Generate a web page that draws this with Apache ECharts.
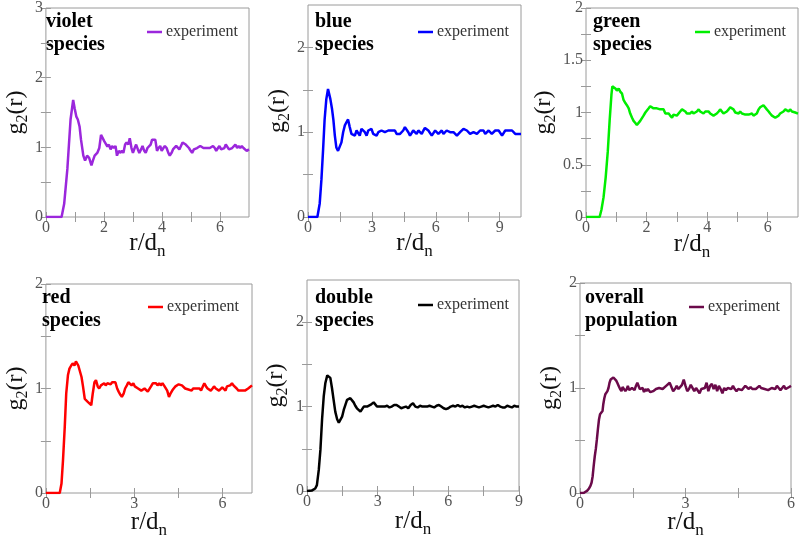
<!DOCTYPE html>
<html><head><meta charset="utf-8">
<script src="https://cdn.jsdelivr.net/npm/echarts@6/dist/echarts.min.js"></script>
<style>html,body{margin:0;padding:0;background:#fff}#c{width:800px;height:540px}</style>
</head><body><div id="c"></div>
<script>
// ---------- data (r/d_n, g2(r)) ----------
const violetData = [[0,0],[0.54,0],[0.63,0.19],[0.74,0.69],[0.85,1.40],[0.94,1.68],[0.99,1.56],[1.05,1.44],[1.10,1.40],[1.16,1.30],[1.21,1.11],[1.29,0.88],[1.35,0.81],[1.42,0.88],[1.49,0.85],[1.57,0.74],[1.62,0.81],[1.68,0.88],[1.77,0.92],[1.84,0.99],[1.90,1.18],[1.95,1.17],[2.01,1.09],[2.06,1.07],[2.12,1.01],[2.17,1.04],[2.23,0.97],[2.28,1.02],[2.34,0.99],[2.40,1.02],[2.45,0.88],[2.51,0.95],[2.56,0.92],[2.62,0.95],[2.67,0.92],[2.73,1.04],[2.78,1.07],[2.84,1.04],[2.89,1.13],[2.95,0.99],[3.00,0.92],[3.06,0.99],[3.11,1.04],[3.17,0.97],[3.22,0.92],[3.28,0.97],[3.33,1.02],[3.39,0.95],[3.44,0.92],[3.50,0.99],[3.55,0.97],[3.61,1.04],[3.66,1.11],[3.72,1.11],[3.77,1.11],[3.83,0.95],[3.88,0.99],[3.94,1.02],[3.99,0.95],[4.05,0.99],[4.10,1.02],[4.16,0.99],[4.22,0.92],[4.27,0.88],[4.33,0.92],[4.38,0.97],[4.44,0.99],[4.49,1.02],[4.55,1.04],[4.60,0.97],[4.66,0.99],[4.71,1.07],[4.77,1.09],[4.82,1.04],[4.88,1.02],[4.93,0.99],[4.99,0.95],[5.04,0.92],[5.10,0.97],[5.15,0.95],[5.21,0.99],[5.26,0.97],[5.32,1.02],[5.38,1.04],[5.43,0.99],[5.49,0.97],[5.54,0.99],[5.60,0.97],[5.65,0.99],[5.71,0.97],[5.76,1.02],[5.82,0.99],[5.87,0.95],[5.93,0.99],[5.98,1.02],[6.04,0.97],[6.09,0.95],[6.15,0.99],[6.20,1.04],[6.26,1.02],[6.31,0.97],[6.37,0.95],[6.42,0.99],[6.48,0.99],[6.53,1.04],[6.59,0.99],[6.64,1.02],[6.70,0.99],[6.75,1.02],[6.81,0.99],[6.87,0.97],[6.92,0.95],[7.00,0.97]];

const blueData = [[0,0],[0.44,0],[0.55,0.16],[0.63,0.44],[0.71,0.80],[0.78,1.15],[0.86,1.39],[0.94,1.51],[0.99,1.52],[1.05,1.39],[1.13,1.27],[1.19,1.15],[1.26,0.96],[1.33,0.82],[1.41,0.78],[1.49,0.80],[1.57,0.88],[1.65,1.00],[1.73,1.08],[1.81,1.12],[1.88,1.15],[1.96,1.06],[2.04,0.98],[2.12,1.00],[2.20,0.96],[2.28,1.02],[2.35,1.00],[2.43,0.96],[2.51,1.04],[2.59,1.05],[2.67,1.00],[2.75,0.96],[2.83,1.02],[2.90,1.00],[2.98,1.04],[3.06,0.98],[3.14,1.00],[3.22,0.96],[3.30,1.00],[3.38,0.98],[3.45,1.02],[3.53,1.04],[3.61,1.00],[3.69,0.98],[3.77,1.02],[3.85,1.00],[3.92,1.02],[4.00,1.00],[4.08,1.02],[4.16,0.98],[4.24,1.00],[4.32,0.98],[4.40,1.00],[4.47,1.02],[4.55,1.06],[4.63,1.04],[4.71,1.00],[4.79,0.96],[4.87,0.98],[4.94,1.02],[5.02,1.00],[5.10,0.98],[5.18,1.02],[5.26,1.00],[5.34,0.98],[5.42,1.02],[5.49,1.05],[5.57,1.04],[5.65,1.02],[5.73,1.00],[5.81,0.96],[5.89,0.98],[5.97,1.02],[6.04,1.00],[6.12,0.98],[6.20,1.00],[6.28,1.02],[6.36,0.98],[6.44,1.00],[6.51,1.02],[6.59,1.04],[6.67,1.00],[6.75,0.98],[6.83,1.00],[6.91,0.98],[6.99,0.96],[7.06,0.98],[7.14,1.00],[7.22,1.02],[7.30,1.04],[7.38,1.05],[7.46,1.02],[7.53,1.00],[7.61,0.98],[7.69,0.96],[7.77,1.00],[7.85,1.02],[7.93,0.98],[8.01,1.00],[8.08,1.02],[8.16,1.00],[8.24,1.02],[8.32,0.98],[8.40,1.00],[8.48,1.02],[8.55,1.00],[8.63,0.98],[8.71,1.00],[8.79,1.02],[8.87,1.00],[8.95,1.02],[9.03,1.00],[9.11,0.96],[9.18,0.98],[9.26,1.02],[9.34,1.00],[9.42,1.02],[9.50,1.00],[9.58,1.02],[9.65,1.00],[9.73,0.98],[9.81,1.00],[9.89,0.98],[10.00,0.98]];

const greenData = [[0,0],[0.45,0],[0.51,0.07],[0.58,0.19],[0.65,0.38],[0.72,0.63],[0.78,0.92],[0.84,1.17],[0.87,1.25],[0.91,1.25],[0.97,1.23],[1.02,1.21],[1.08,1.23],[1.13,1.20],[1.19,1.18],[1.24,1.12],[1.30,1.09],[1.35,1.07],[1.41,1.04],[1.46,0.99],[1.52,0.95],[1.57,0.92],[1.63,0.90],[1.68,0.88],[1.74,0.89],[1.79,0.92],[1.85,0.93],[1.90,0.97],[1.96,1.00],[2.01,1.01],[2.07,1.04],[2.12,1.06],[2.18,1.06],[2.23,1.04],[2.29,1.03],[2.34,1.04],[2.40,1.03],[2.45,1.03],[2.51,1.03],[2.56,1.03],[2.62,0.99],[2.67,0.98],[2.73,0.99],[2.78,0.97],[2.84,0.95],[2.89,0.98],[2.95,0.99],[3.00,0.97],[3.06,0.98],[3.11,1.01],[3.17,1.03],[3.22,1.03],[3.28,1.01],[3.33,0.99],[3.39,1.00],[3.44,0.99],[3.50,1.01],[3.55,0.99],[3.61,1.00],[3.66,1.01],[3.72,1.03],[3.77,1.01],[3.83,1.00],[3.88,0.99],[3.94,1.01],[3.99,1.00],[4.05,1.01],[4.10,0.99],[4.16,0.98],[4.21,0.97],[4.27,0.98],[4.32,0.99],[4.38,1.01],[4.43,1.03],[4.49,1.02],[4.54,0.99],[4.60,0.99],[4.65,1.01],[4.71,1.03],[4.76,1.05],[4.82,1.06],[4.87,1.03],[4.93,1.00],[4.98,0.99],[5.04,0.99],[5.09,1.01],[5.15,0.99],[5.20,0.99],[5.26,0.98],[5.31,0.97],[5.37,0.98],[5.42,0.99],[5.48,0.99],[5.53,0.97],[5.59,0.97],[5.64,0.99],[5.70,1.03],[5.75,1.05],[5.81,1.06],[5.86,1.07],[5.92,1.06],[5.97,1.03],[6.03,1.01],[6.08,0.99],[6.14,0.97],[6.19,0.96],[6.25,0.95],[6.30,0.96],[6.36,0.97],[6.41,0.99],[6.47,0.99],[6.52,1.01],[6.58,1.03],[6.63,1.02],[6.69,1.01],[6.74,1.03],[6.80,1.01],[6.85,1.02],[6.91,1.00],[7.00,0.99]];

const redData = [[0,0],[0.47,0],[0.53,0.09],[0.58,0.31],[0.64,0.63],[0.69,0.95],[0.75,1.13],[0.80,1.19],[0.86,1.22],[0.91,1.24],[0.97,1.22],[1.02,1.26],[1.05,1.27],[1.10,1.22],[1.15,1.21],[1.21,1.11],[1.26,1.02],[1.32,0.90],[1.37,0.89],[1.43,0.87],[1.48,0.86],[1.54,0.84],[1.59,0.95],[1.65,1.06],[1.70,1.08],[1.76,1.02],[1.81,1.00],[1.87,1.03],[1.92,1.02],[1.98,1.05],[2.03,1.03],[2.09,1.05],[2.14,1.05],[2.20,1.04],[2.25,1.06],[2.31,1.05],[2.36,1.06],[2.42,1.00],[2.47,0.97],[2.53,0.94],[2.58,0.92],[2.64,0.95],[2.69,1.00],[2.75,1.03],[2.80,1.06],[2.86,1.05],[2.91,1.03],[2.97,1.05],[3.02,1.02],[3.08,1.02],[3.13,1.00],[3.19,1.01],[3.24,0.98],[3.30,0.97],[3.35,1.00],[3.41,0.99],[3.46,0.97],[3.52,0.98],[3.57,1.02],[3.63,1.05],[3.68,1.06],[3.74,1.05],[3.79,1.03],[3.85,1.05],[3.90,1.03],[3.96,1.05],[4.01,1.03],[4.07,1.02],[4.12,0.98],[4.18,0.92],[4.23,0.95],[4.29,0.98],[4.34,1.00],[4.40,1.02],[4.45,1.03],[4.51,1.04],[4.56,1.05],[4.62,1.03],[4.67,1.02],[4.73,1.00],[4.78,1.01],[4.84,0.99],[4.89,1.00],[4.95,0.98],[5.00,1.00],[5.05,0.99],[5.11,1.00],[5.16,0.99],[5.22,1.00],[5.27,0.98],[5.33,1.02],[5.38,1.05],[5.44,1.02],[5.49,1.00],[5.55,1.01],[5.60,0.98],[5.66,1.00],[5.71,1.02],[5.77,1.00],[5.82,1.01],[5.88,0.98],[5.93,0.99],[5.99,1.01],[6.04,1.00],[6.10,0.98],[6.15,1.02],[6.21,1.01],[6.26,1.03],[6.32,1.05],[6.37,1.03],[6.43,1.02],[6.48,1.00],[6.54,0.98],[6.59,0.97],[6.65,0.98],[6.70,0.98],[6.76,0.98],[6.81,0.99],[6.87,1.00],[6.92,1.01],[7.00,1.03]];

const doubleData = [[0,0],[0.20,0.005],[0.35,0.03],[0.42,0.07],[0.50,0.25],[0.57,0.49],[0.64,0.85],[0.71,1.12],[0.78,1.28],[0.86,1.37],[0.92,1.39],[0.99,1.34],[1.06,1.22],[1.13,1.08],[1.20,0.94],[1.28,0.85],[1.35,0.81],[1.42,0.83],[1.49,0.88],[1.56,0.96],[1.63,1.02],[1.70,1.08],[1.77,1.10],[1.84,1.10],[1.91,1.08],[1.98,1.05],[2.05,1.01],[2.12,0.98],[2.19,0.96],[2.27,0.94],[2.34,0.96],[2.41,1.00],[2.48,1.01],[2.55,1.00],[2.62,1.02],[2.69,1.02],[2.76,1.04],[2.83,1.05],[2.90,1.04],[2.97,1.00],[3.05,0.99],[3.12,1.00],[3.19,1.00],[3.30,1.00],[3.40,1.01],[3.50,0.99],[3.60,1.00],[3.70,1.02],[3.80,1.02],[3.90,1.00],[4.00,0.98],[4.10,0.99],[4.20,1.00],[4.30,0.98],[4.40,1.02],[4.50,1.04],[4.60,1.00],[4.70,0.99],[4.80,1.01],[4.90,1.00],[5.00,1.00],[5.10,1.00],[5.20,1.01],[5.30,1.00],[5.40,0.99],[5.50,1.01],[5.60,1.02],[5.70,1.00],[5.80,0.98],[5.90,0.97],[6.00,0.98],[6.10,1.00],[6.20,1.01],[6.30,1.00],[6.40,1.02],[6.50,1.00],[6.60,1.01],[6.70,0.99],[6.80,1.00],[6.90,0.99],[7.00,1.00],[7.10,1.01],[7.20,1.00],[7.30,0.99],[7.40,1.00],[7.50,1.01],[7.60,1.00],[7.70,0.99],[7.80,1.00],[7.90,1.01],[8.00,1.00],[8.10,1.02],[8.20,1.00],[8.30,0.99],[8.40,0.99],[8.50,1.01],[8.60,1.00],[8.70,0.99],[8.80,1.01],[8.90,1.00],[9.00,1.00]];

const overallData = [[0,0],[0.10,0],[0.15,0.01],[0.20,0.02],[0.25,0.04],[0.30,0.07],[0.33,0.10],[0.36,0.16],[0.39,0.26],[0.42,0.35],[0.45,0.42],[0.48,0.51],[0.51,0.61],[0.54,0.70],[0.57,0.75],[0.61,0.76],[0.64,0.78],[0.66,0.84],[0.69,0.90],[0.72,0.94],[0.75,0.95],[0.78,0.97],[0.81,1.00],[0.84,1.05],[0.87,1.08],[0.91,1.09],[0.95,1.10],[0.99,1.09],[1.03,1.07],[1.06,1.05],[1.10,1.02],[1.14,0.99],[1.18,0.97],[1.21,1.01],[1.25,1.02],[1.29,0.97],[1.33,0.99],[1.36,1.02],[1.40,0.98],[1.44,0.97],[1.48,1.00],[1.52,0.99],[1.55,0.98],[1.59,1.02],[1.63,1.05],[1.67,1.04],[1.70,0.99],[1.74,0.98],[1.78,1.00],[1.82,0.96],[1.85,0.99],[1.89,0.97],[1.93,0.99],[1.97,0.98],[2.00,0.96],[2.04,0.95],[2.08,0.97],[2.12,0.98],[2.16,0.99],[2.20,0.99],[2.25,1.00],[2.30,1.01],[2.35,0.99],[2.40,1.00],[2.45,1.02],[2.50,1.02],[2.55,1.05],[2.60,1.01],[2.65,0.97],[2.70,0.99],[2.75,1.02],[2.80,0.99],[2.85,1.00],[2.90,1.03],[2.95,1.08],[3.00,1.02],[3.05,0.97],[3.10,0.99],[3.15,1.03],[3.20,1.02],[3.25,0.97],[3.30,1.00],[3.35,0.99],[3.40,0.95],[3.45,0.99],[3.50,0.98],[3.55,1.00],[3.60,1.05],[3.65,0.97],[3.70,1.02],[3.75,1.04],[3.80,0.99],[3.85,1.03],[3.90,0.97],[3.95,1.02],[4.00,0.99],[4.05,0.95],[4.10,1.00],[4.15,0.98],[4.20,1.00],[4.25,0.99],[4.30,0.99],[4.35,1.02],[4.40,0.99],[4.45,0.97],[4.50,0.99],[4.55,0.99],[4.60,0.98],[4.65,1.00],[4.70,1.02],[4.75,1.02],[4.80,0.99],[4.85,1.01],[4.90,0.99],[4.95,0.98],[5.00,0.99],[5.05,1.00],[5.10,1.02],[5.15,1.00],[5.20,0.99],[5.25,0.99],[5.30,1.00],[5.35,0.98],[5.40,0.99],[5.45,1.00],[5.50,0.99],[5.55,0.99],[5.60,1.02],[5.65,1.00],[5.70,0.98],[5.75,1.00],[5.80,1.02],[5.85,0.99],[5.90,1.00],[5.95,1.01],[6.00,1.02]];

// ---------- tick values ----------
const violetXTicks = [0,2,4,6],   violetXMinor = [1,3,5],       violetYTicks = [0,1,2,3],        violetYMinor = [0.5,1.5,2.5];
const blueXTicks   = [0,3,6,9],   blueXMinor   = [1.5,4.5,7.5],  blueYTicks   = [0,1,2],          blueYMinor   = [0.5,1.5];
const greenXTicks  = [0,2,4,6],   greenXMinor  = [1,3,5],        greenYTicks  = [0,0.5,1,1.5,2],  greenYMinor  = [0.25,0.75,1.25,1.75];
const redXTicks    = [0,3,6],     redXMinor    = [1.5,4.5],      redYTicks    = [0,1,2],          redYMinor    = [0.5,1.5];
const doubleXTicks = [0,3,6,9],   doubleXMinor = [1.5,4.5,7.5],  doubleYTicks = [0,1,2],          doubleYMinor = [0.5,1.5];
const overallXTicks= [0,3,6],     overallXMinor= [1.5,4.5],      overallYTicks= [0,1,2],          overallYMinor= [0.5,1.5];

const panelTitles = [['violet','species'],['blue','species'],['green','species'],['red','species'],['double','species'],['overall','population']];
const legendLabel = 'experiment';

// ---------- panel setup ----------
const panels = [
  {data: violetData, color:'#9b27dc', xMax:7, yMax:3, xT:violetXTicks, xM:violetXMinor, yT:violetYTicks, yM:violetYMinor},
  {data: blueData, color:'#0000ff', xMax:10, yMax:2.5, xT:blueXTicks, xM:blueXMinor, yT:blueYTicks, yM:blueYMinor},
  {data: greenData, color:'#00ee00', xMax:7, yMax:2, xT:greenXTicks, xM:greenXMinor, yT:greenYTicks, yM:greenYMinor},
  {data: redData, color:'#ff0000', xMax:7, yMax:2, xT:redXTicks, xM:redXMinor, yT:redYTicks, yM:redYMinor},
  {data: doubleData, color:'#000000', xMax:9, yMax:2.5, xT:doubleXTicks, xM:doubleXMinor, yT:doubleYTicks, yM:doubleYMinor},
  {data: overallData, color:'#6b0a4a', xMax:6, yMax:2, xT:overallXTicks, xM:overallXMinor, yT:overallYTicks, yM:overallYMinor}
];
const layout = [
  {grid:{left:38,top:5,width:211,height:212},  yGap:12, xGap:12, title:[46,10],  leg:[147,32]},
  {grid:{left:308,top:5,width:213,height:212}, yGap:17, xGap:12, title:[315,10], leg:[418,32]},
  {grid:{left:586,top:5,width:212,height:212}, yGap:25, xGap:13, title:[593,10], leg:[695,32]},
  {grid:{left:39,top:284,width:213,height:209},yGap:13, xGap:15, title:[42,286], leg:[148,307]},
  {grid:{left:307,top:280,width:212,height:211},yGap:18,xGap:16, title:[315,286],leg:[418,305]},
  {grid:{left:580,top:283,width:211,height:211},yGap:17,xGap:15, title:[585,286],leg:[689,307]}
];

const FONT = 'Liberation Serif, Times New Roman, serif';
const AXC = '#9a9a9a';
const grids = [], xAxes = [], yAxes = [], series = [], graphics = [];

panels.forEach((p, i) => {
  const L = layout[i];
  grids.push(Object.assign({show:true, borderColor:AXC, borderWidth:1, containLabel:false}, L.grid));
  const tickAll = (a,b) => a.concat(b).sort((u,v)=>u-v);
  const xTickStyle = {show:true, inside:true, length:5, lineStyle:{color:AXC}, customValues: tickAll(p.xT, p.xM)};
  const yTickStyle = {show:true, inside:true, length:5, lineStyle:{color:AXC}, customValues: tickAll(p.yT, p.yM)};
  xAxes.push({
    type:'value', gridIndex:i, min:0, max:p.xMax, position:'bottom',
    axisLine:{show:false}, splitLine:{show:false}, axisTick:xTickStyle,
    axisLabel:{customValues:p.xT, color:'#555', fontFamily:FONT, fontSize:16, margin:3},
    name:'{i|r/d}{s|n}', nameLocation:'middle', nameGap:L.xGap, nameMoveOverlap:false,
    nameTextStyle:{rich:{
      i:{fontFamily:FONT, fontSize:25, color:'#111', lineHeight:28},
      s:{fontFamily:FONT, fontSize:17, color:'#111', lineHeight:17, padding:[17,0,0,0]}
    }}
  });
  xAxes.push({
    type:'value', gridIndex:i, min:0, max:p.xMax, position:'top',
    axisLine:{show:false}, splitLine:{show:false}, axisTick:xTickStyle, axisLabel:{show:false}
  });
  yAxes.push({
    type:'value', gridIndex:i, min:0, max:p.yMax, position:'left',
    axisLine:{show:false}, splitLine:{show:false}, axisTick:yTickStyle,
    axisLabel:{customValues:p.yT, color:'#555', fontFamily:FONT, fontSize:16, margin:3},
    name:'{i|g}{s|2}{i|(r)}', nameLocation:'middle', nameGap:L.yGap,
    nameTextStyle:{rich:{
      i:{fontFamily:FONT, fontSize:24, color:'#111', lineHeight:26},
      s:{fontFamily:FONT, fontSize:16, color:'#111', lineHeight:16, padding:[14,0,0,0]}
    }}
  });
  yAxes.push({
    type:'value', gridIndex:i, min:0, max:p.yMax, position:'right',
    axisLine:{show:false}, splitLine:{show:false}, axisTick:yTickStyle, axisLabel:{show:false}
  });
  series.push({
    type:'line', name:legendLabel, xAxisIndex:2*i, yAxisIndex:2*i, data:p.data,
    showSymbol:false, symbol:'none', lineStyle:{color:p.color, width:2.5}, itemStyle:{color:p.color},
    animation:false, clip:true
  });
  graphics.push({
    type:'text', left:L.title[0], top:L.title[1],
    style:{text:panelTitles[i].join('\n'), font:'bold 20px '+FONT, fill:'#000', lineHeight:23}
  });
  graphics.push({
    type:'line', shape:{x1:L.leg[0], y1:L.leg[1], x2:L.leg[0]+15, y2:L.leg[1]},
    style:{stroke:p.color, lineWidth:2.5}
  });
  graphics.push({
    type:'text', x:L.leg[0]+19, y:L.leg[1],
    style:{text:legendLabel, font:'16px '+FONT, fill:'#333', verticalAlign:'middle', textAlign:'left'}
  });
});

const chart = echarts.init(document.getElementById('c'), null, {renderer:'canvas'});
chart.setOption({
  animation:false,
  backgroundColor:'#fff',
  grid:grids, xAxis:xAxes, yAxis:yAxes, series:series,
  graphic:{elements:graphics}
});
</script>
</body></html>
